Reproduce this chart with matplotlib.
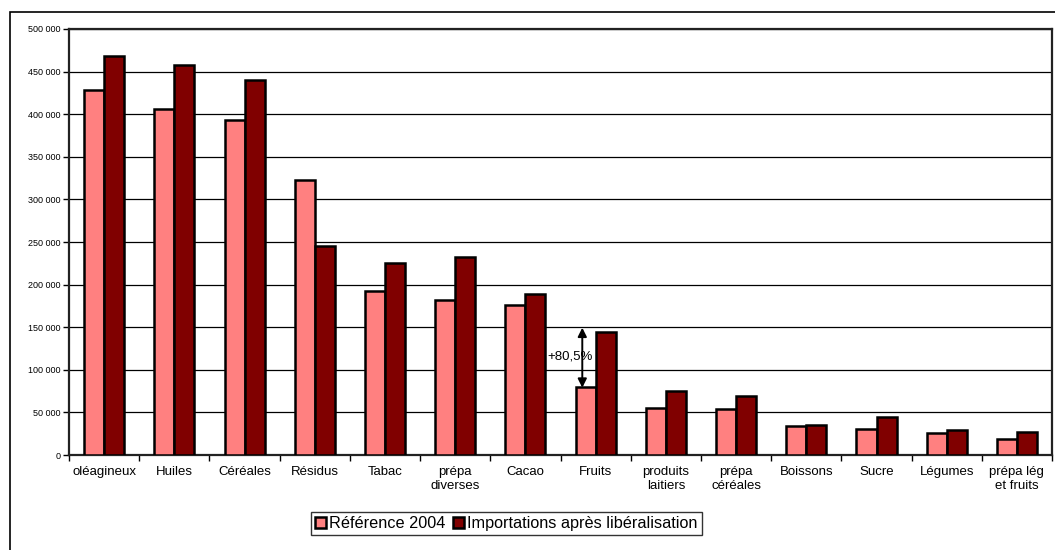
import numpy as np
import matplotlib
matplotlib.use('Agg')
import matplotlib.pyplot as plt
from matplotlib.patches import Rectangle
from matplotlib.ticker import FuncFormatter

plt.rcParams['font.family'] = ['Liberation Sans', 'DejaVu Sans']

categories = ['oléagineux', 'Huiles', 'Céréales', 'Résidus', 'Tabac', 'prépa\ndiverses',
              'Cacao', 'Fruits', 'produits\nlaitiers', 'prépa\ncéréales', 'Boissons',
              'Sucre', 'Légumes', 'prépa lég\net fruits']
reference_2004 = [428000, 406000, 393500, 323000, 193000, 182000, 176500, 80000,
                  55000, 54000, 33500, 30000, 26000, 19000]
apres_liberalisation = [468000, 458000, 440000, 245000, 225700, 232300, 189000, 144400,
                        75500, 68800, 34800, 44200, 29000, 27300]
series_labels = ['Référence 2004', 'Importations après libéralisation']
arrow_label = '+80,5%'

fig = plt.figure(figsize=(10.55, 5.5), dpi=100)
ax = fig.add_axes([0.0654, 0.1727, 0.9318, 0.7746])

x = np.arange(len(categories))
w = 0.285
ax.bar(x - w / 2, reference_2004, w, color='#FF8080', edgecolor='black',
       linewidth=1.8, label=series_labels[0], zorder=3)
ax.bar(x + w / 2, apres_liberalisation, w, color='#800000', edgecolor='black',
       linewidth=1.8, label=series_labels[1], zorder=3)

ax.set_xlim(-0.5, len(categories) - 0.5)
ax.set_ylim(0, 500000)
ax.set_yticks(np.arange(0, 500001, 50000))
ax.yaxis.set_major_formatter(FuncFormatter(lambda v, p: f'{int(v):,}'.replace(',', ' ')))
ax.grid(axis='y', color='black', linewidth=0.9, zorder=0)

ax.set_xticks(x)
ax.set_xticklabels(categories, fontsize=9.5)
ax.set_xticks(np.arange(-0.5, len(categories), 1), minor=True)
ax.tick_params(axis='x', which='major', length=0, pad=8)
ax.tick_params(axis='x', which='minor', length=4, width=1, direction='out')
ax.tick_params(axis='y', labelsize=6.5, length=4, width=1, direction='out', pad=2)
for s in ax.spines.values():
    s.set_linewidth(1.6)
    s.set_color('#222222')

# double arrow showing the increase for Fruits
i = categories.index('Fruits')
ax.annotate('', xy=(i - 0.19, apres_liberalisation[i] + 5000),
            xytext=(i - 0.19, reference_2004[i] - 1000),
            arrowprops=dict(arrowstyle='<|-|>', color='black', lw=1.4,
                            mutation_scale=13, shrinkA=0, shrinkB=0), zorder=5)
ax.text(i - 0.36, (reference_2004[i] + apres_liberalisation[i]) / 2 + 3000, arrow_label,
        ha='center', va='center', fontsize=9.5, zorder=6)

fig.legend(loc='center', bbox_to_anchor=(0.48, 0.048), ncol=2, fontsize=11.7,
           frameon=True, fancybox=False, edgecolor='black', handlelength=0.65,
           handleheight=0.65, handletextpad=0.2, columnspacing=0.5, borderpad=0.25)

# outer chart frame
fig.patches.append(Rectangle((10 / 1055, -0.1), 1.1, 1.1 - 12 / 550, transform=fig.transFigure,
                             fill=False, edgecolor='black', linewidth=1.2))

fig.savefig('out.png', dpi=100)
